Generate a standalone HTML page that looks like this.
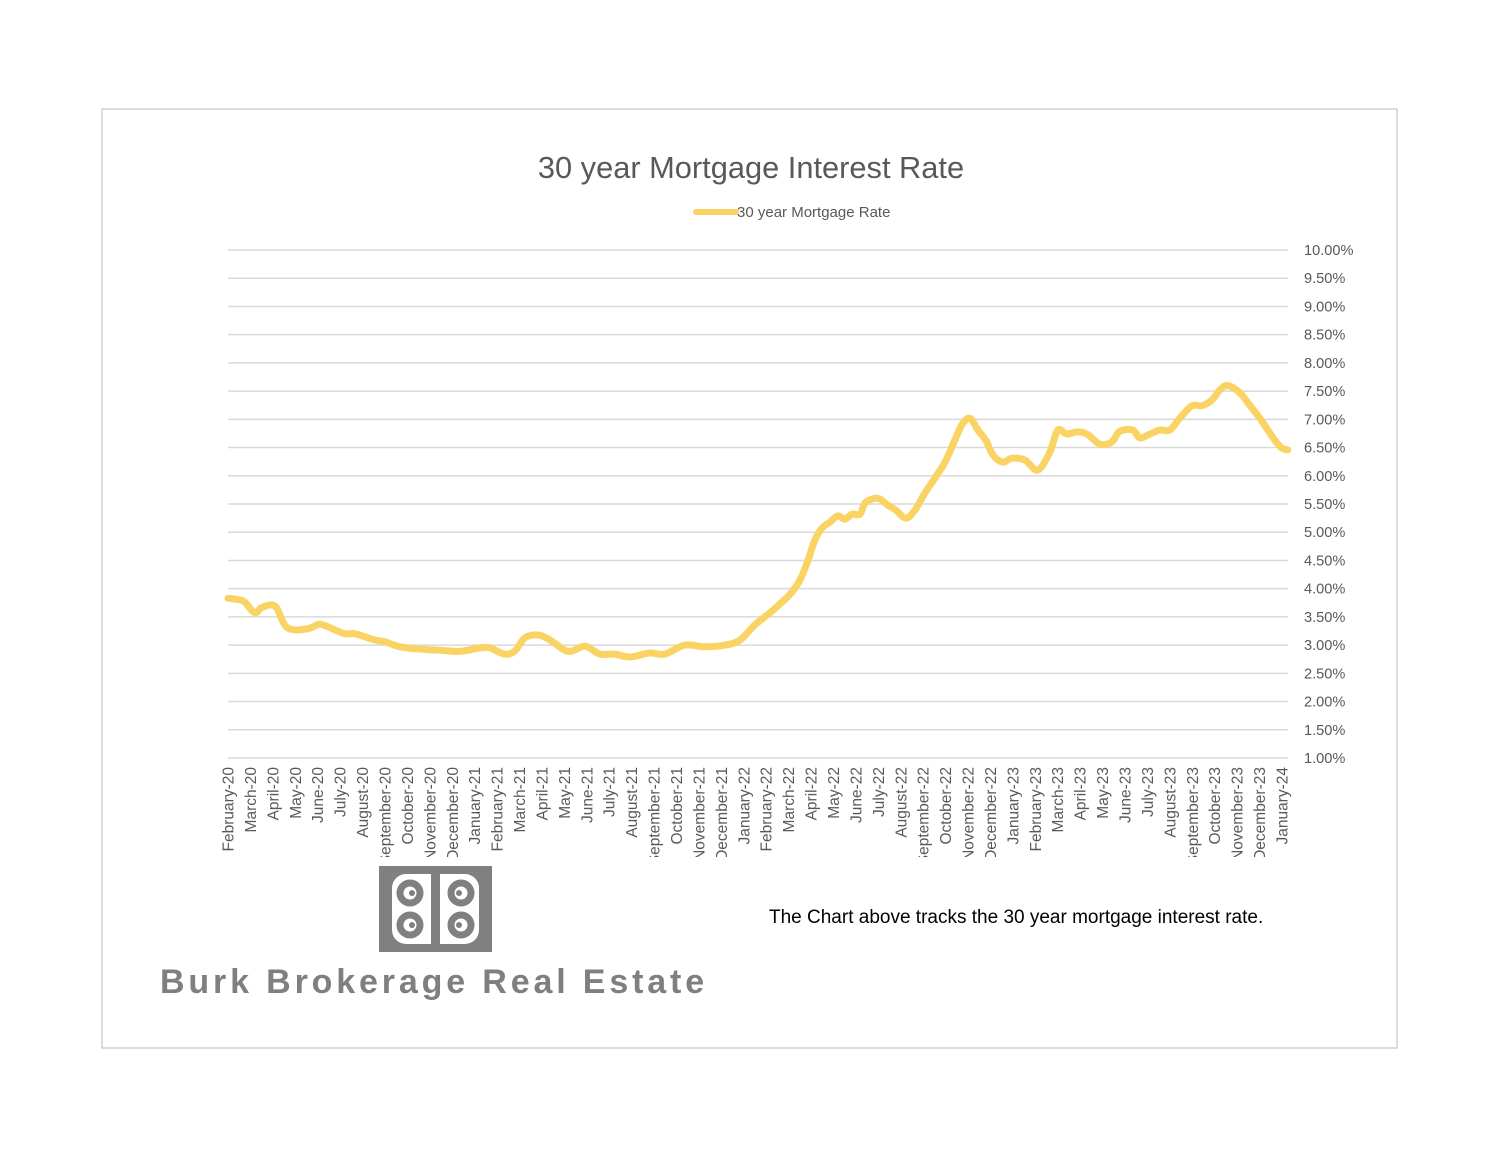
<!DOCTYPE html>
<html><head><meta charset="utf-8"><style>
body{margin:0;background:#fff;}
svg{display:block;font-family:"Liberation Sans",sans-serif;}
</style></head><body>
<svg width="1500" height="1159" viewBox="0 0 1500 1159">
<defs><clipPath id="lc"><rect x="200" y="760" width="1120" height="97"/></clipPath></defs>
<rect x="102" y="109" width="1295" height="939" fill="#fff" stroke="#d0d0d0" stroke-width="1.5"/>
<text x="751" y="178" text-anchor="middle" font-size="30.8" fill="#595959">30 year Mortgage Interest Rate</text>
<g>
<line x1="696" y1="212" x2="736" y2="212" stroke="#F9D464" stroke-width="6" stroke-linecap="round"/>
<text x="737" y="217" font-size="15" fill="#595959">30 year Mortgage Rate</text>
</g>
<g id="grid"></g>
<g id="ylab"></g>
<g id="xlab" clip-path="url(#lc)"></g>
<path id="line" fill="none" stroke="#F9D464" stroke-width="7" stroke-linejoin="round" stroke-linecap="round"/>
<g>
<rect x="379" y="866" width="113" height="86" fill="#808080"/>
<rect x="392" y="874" width="87" height="70" rx="14" fill="#fff"/>
<rect x="431" y="866" width="9" height="86" fill="#808080"/>
<g fill="none" stroke="#808080" stroke-width="7">
<circle cx="410" cy="893" r="10"/><circle cx="410" cy="925" r="10"/>
<circle cx="461" cy="893" r="10"/><circle cx="461" cy="925" r="10"/>
</g>
<g fill="#808080"><circle cx="412" cy="893" r="3"/><circle cx="412" cy="925" r="3"/><circle cx="459" cy="893" r="3"/><circle cx="459" cy="925" r="3"/></g>
</g>
<text x="160" y="993" font-size="34" font-weight="bold" fill="#7f7f7f" letter-spacing="3.85">Burk Brokerage Real Estate</text>
<text x="769" y="923" font-size="19" fill="#000">The Chart above tracks the 30 year mortgage interest rate.</text>
</svg>
<script>
const monthLabels=["February-20","March-20","April-20","May-20","June-20","July-20","August-20","September-20","October-20","November-20","December-20","January-21","February-21","March-21","April-21","May-21","June-21","July-21","August-21","September-21","October-21","November-21","December-21","January-22","February-22","March-22","April-22","May-22","June-22","July-22","August-22","September-22","October-22","November-22","December-22","January-23","February-23","March-23","April-23","May-23","June-23","July-23","August-23","September-23","October-23","November-23","December-23","January-24"];
const yTicks=[1,1.5,2,2.5,3,3.5,4,4.5,5,5.5,6,6.5,7,7.5,8,8.5,9,9.5,10];
const rateTime=[0,0.53,0.76,1.2,1.52,2.1,2.54,2.99,3.66,4.1,4.77,5.22,5.66,6.55,7.0,7.67,8.56,9.45,10.34,11.23,11.68,12.35,12.8,13.24,13.82,14.36,15.16,15.92,16.58,17.25,17.92,18.82,19.48,20.37,21.27,22.16,22.83,23.5,24.16,24.61,25.06,25.5,25.86,26.17,26.48,26.84,27.2,27.51,27.82,28.18,28.44,28.98,29.42,29.78,30.23,30.63,31.07,31.52,31.97,32.41,32.72,33.08,33.44,33.79,34.11,34.55,34.95,35.53,36.11,36.65,37.0,37.4,37.9,38.34,38.88,39.41,39.77,40.35,40.66,41.11,41.55,42.0,42.44,42.98,43.42,43.87,44.23,44.58,45.12,45.56,46.01,46.37,46.68,46.99,47.26];
const rateValues=[3.83,3.80,3.76,3.57,3.67,3.69,3.35,3.27,3.30,3.37,3.27,3.20,3.20,3.09,3.06,2.97,2.93,2.91,2.89,2.95,2.95,2.84,2.90,3.13,3.18,3.09,2.89,2.98,2.84,2.84,2.79,2.86,2.84,3.00,2.97,3.00,3.09,3.36,3.57,3.73,3.90,4.15,4.50,4.86,5.07,5.18,5.29,5.23,5.32,5.32,5.53,5.60,5.48,5.39,5.25,5.39,5.69,5.96,6.24,6.63,6.90,7.02,6.81,6.63,6.37,6.24,6.31,6.28,6.10,6.42,6.81,6.74,6.78,6.73,6.56,6.60,6.79,6.81,6.67,6.74,6.81,6.81,7.02,7.24,7.24,7.34,7.52,7.60,7.47,7.25,7.02,6.81,6.63,6.49,6.46];
const NS="http://www.w3.org/2000/svg";
const X0=228,X1=1282,Y0=758,Y1=250;
const xs=t=>X0+t*(X1-X0)/(monthLabels.length-1);
const ys=v=>Y0-(v-1)*(Y0-Y1)/9;
const grid=document.getElementById('grid'),ylab=document.getElementById('ylab'),xlab=document.getElementById('xlab');
yTicks.forEach(v=>{
 const l=document.createElementNS(NS,'line');
 
 
 l.setAttribute('x1',228);l.setAttribute('x2',1288);l.setAttribute('y1',ys(v));l.setAttribute('y2',ys(v));
 l.setAttribute('stroke','#d9d9d9');l.setAttribute('stroke-width','1.5');grid.appendChild(l);
 const t=document.createElementNS(NS,'text');
 
 
 t.setAttribute('x',1304);t.setAttribute('y',ys(v)+5);t.setAttribute('font-size','14.6');t.setAttribute('fill','#595959');
 t.textContent=v.toFixed(2)+'%';ylab.appendChild(t);
});
monthLabels.forEach((m,i)=>{
 const t=document.createElementNS(NS,'text');
 
 
 const x=xs(i)+5.5,y=767;
 t.setAttribute('transform','translate('+x+','+y+') rotate(-90)');
 t.setAttribute('text-anchor','end');t.setAttribute('font-size','15.5');t.setAttribute('fill','#595959');
 t.textContent=m;xlab.appendChild(t);
});
const P=rateTime.map((t,i)=>[xs(t),ys(rateValues[i])]);
let d='M'+P[0][0]+','+P[0][1];
for(let i=0;i<P.length-1;i++){
 const p0=P[Math.max(0,i-1)],p1=P[i],p2=P[i+1],p3=P[Math.min(P.length-1,i+2)];
 const c1=[p1[0]+(p2[0]-p0[0])/6,p1[1]+(p2[1]-p0[1])/6],c2=[p2[0]-(p3[0]-p1[0])/6,p2[1]-(p3[1]-p1[1])/6];
 d+=' C'+c1+' '+c2+' '+p2;
}
document.getElementById('line').setAttribute('d',d);
</script>
</body></html>
